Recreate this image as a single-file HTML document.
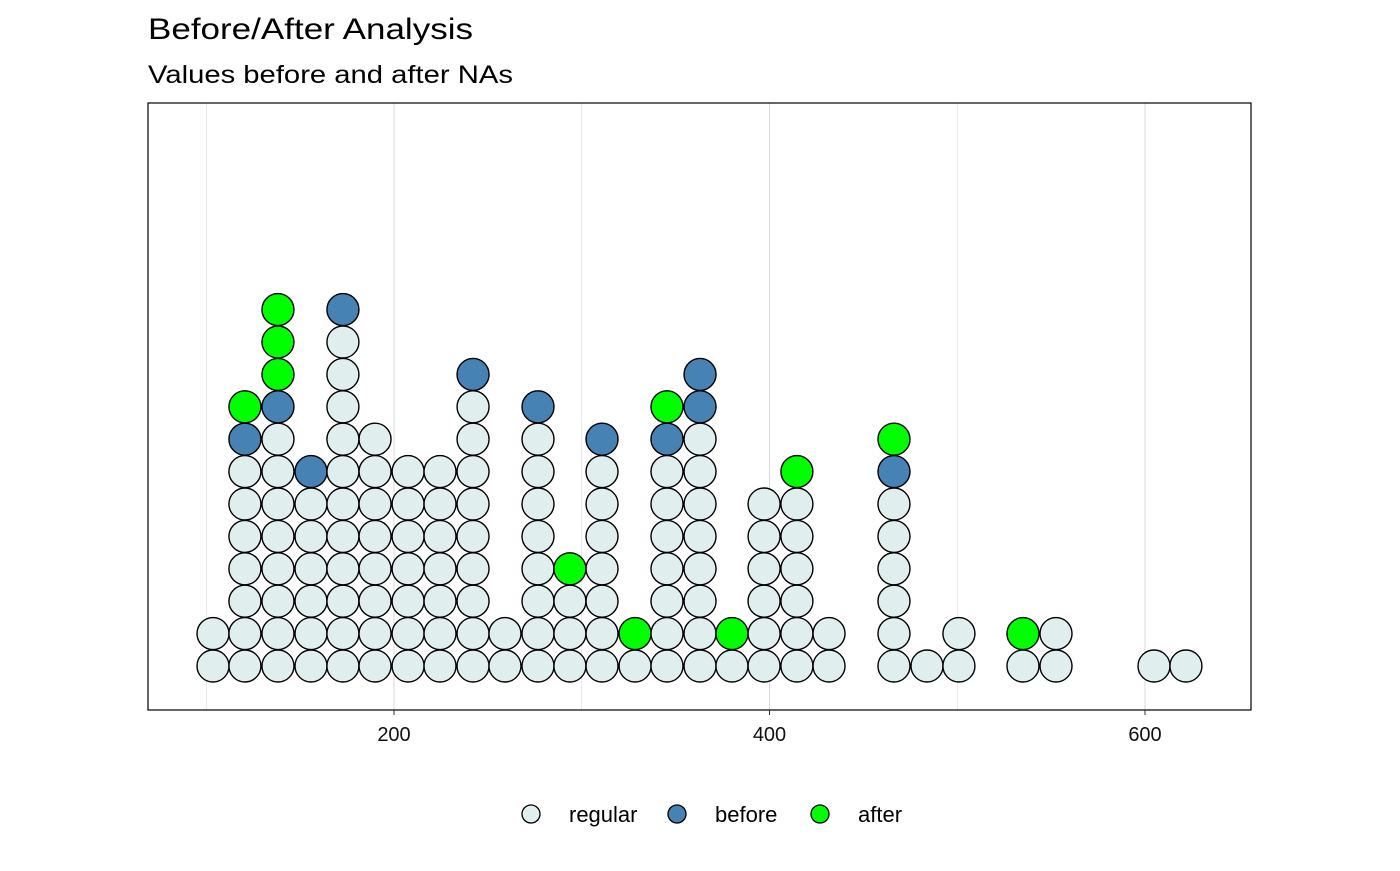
<!DOCTYPE html>
<html><head><meta charset="utf-8"><style>
body{margin:0;background:#fff;font-family:"Liberation Sans",Arial,sans-serif}
</style></head><body>
<svg id="chart" width="1400" height="866" xmlns="http://www.w3.org/2000/svg" font-family="Liberation Sans, Arial, sans-serif">
<rect width="1400" height="866" fill="#fff"/>
<text x="148" y="39" font-size="30" textLength="325" lengthAdjust="spacingAndGlyphs" fill="#000">Before/After Analysis</text>
<text x="148" y="83" font-size="25" textLength="365" lengthAdjust="spacingAndGlyphs" fill="#000">Values before and after NAs</text>
<g id="grid"></g>
<g id="dots"></g>
<rect x="148" y="103" width="1103" height="607" fill="none" stroke="#000" stroke-width="1.2"/>
<g id="axis"></g>
<g id="legend"></g>
</svg>
<script>
const binCenters=[103.6,120.6,138.2,155.8,172.8,189.9,207.5,224.5,242.1,259.1,276.7,293.7,310.8,328.4,345.4,363.0,380.0,397.1,414.6,431.7,466.3,483.9,500.9,535.0,552.6,604.8,621.8];
const regularCounts=[2,7,8,6,11,8,7,7,9,2,8,3,7,1,7,8,1,6,6,2,6,1,2,1,2,1,1];
const beforeCounts=[0,1,1,1,1,0,0,0,1,0,1,0,1,0,1,2,0,0,0,0,1,0,0,0,0,0,0];
const afterCounts=[0,1,3,0,0,0,0,0,0,0,0,1,0,1,1,0,1,0,1,0,1,0,0,1,0,0,0];
const majorTicks=[200,400,600];
const minorTicks=[100,300,500];
const legendLabels=["regular","before","after"];
const colors={regular:"#E0EEEE",before:"#4682B4",after:"#00FF00"};
const NS="http://www.w3.org/2000/svg";
function xScale(v){return 394+(v-200)*1.8775;}
function yScale(i){return 666-i*32.4;}
const grid=document.getElementById('grid'),dots=document.getElementById('dots'),axis=document.getElementById('axis'),legend=document.getElementById('legend');
function mk(tag,attrs,parent){const e=document.createElementNS(NS,tag);for(const k in attrs)e.setAttribute(k,attrs[k]);parent.appendChild(e);return e;}
minorTicks.concat(majorTicks).forEach(t=>{
  const l=mk('line',{x1:xScale(t),x2:xScale(t),y1:103,y2:710,stroke:'#d9d9d9','stroke-width':majorTicks.includes(t)?1:0.6},grid);
  
  
});
majorTicks.forEach(t=>{
  const tk=mk('line',{x1:xScale(t),x2:xScale(t),y1:710,y2:715,stroke:'#333','stroke-width':1},axis);
  
  
  const tx=mk('text',{x:xScale(t),y:741,'font-size':20,'text-anchor':'middle',fill:'#111'},axis);
  tx.textContent=t;
  
  
});
binCenters.forEach((b,i)=>{
  const stack=[];
  for(let k=0;k<regularCounts[i];k++)stack.push('regular');
  for(let k=0;k<beforeCounts[i];k++)stack.push('before');
  for(let k=0;k<afterCounts[i];k++)stack.push('after');
  stack.forEach((c,j)=>{
    const d=mk('circle',{cx:xScale(b),cy:yScale(j),r:16,fill:colors[c],stroke:'#000','stroke-width':1.4},dots);
    
    
  });
});
const lx=[531,677,820];
legendLabels.forEach((lab,i)=>{
  const c=mk('circle',{cx:lx[i],cy:814,r:9,fill:colors[lab],stroke:'#000','stroke-width':1.3},legend);
  
  
  const t=mk('text',{x:lx[i]+38,y:822,'font-size':22,fill:'#000'},legend);
  t.textContent=lab;
  
  
});
</script>
</body></html>
